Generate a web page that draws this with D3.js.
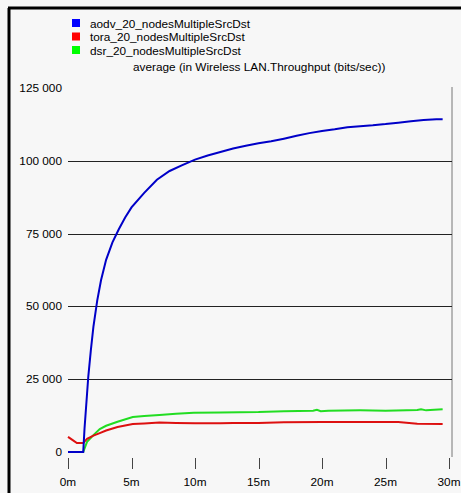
<!DOCTYPE html>
<html>
<head>
<meta charset="utf-8">
<script src="https://d3js.org/d3.v7.min.js"></script>
<style>
  body { margin: 0; background: #f7f7f7; }
  svg { display: block; }
  text { font-family: "Liberation Sans", Arial, sans-serif; font-size: 11.8px; fill: #000; }
</style>
</head>
<body>
<script>
// series: time in minutes, value in bits/sec
var seriesNames = ["aodv_20_nodesMultipleSrcDst", "tora_20_nodesMultipleSrcDst", "dsr_20_nodesMultipleSrcDst"];
var legendColors = ["#0000ff", "#ff0000", "#00ff00"];
var lineColors = ["#0000c8", "#dd1010", "#22dd22"];

var aodvT = [0, 1.2, 1.3, 1.5, 1.6, 1.8, 2.0, 2.3, 2.6, 3.0, 3.5, 4.0, 4.5, 5, 6, 7, 8, 9, 10, 11, 12, 13, 14, 15, 16, 17, 18, 19, 20, 21, 22, 23, 24, 25, 26, 27, 28, 29, 29.5];
var aodvV = [0, 0, 8000, 20000, 26000, 35000, 43000, 52000, 59000, 66000, 72000, 76500, 80500, 84000, 89000, 93500, 96500, 98500, 100400, 101800, 103000, 104200, 105200, 106000, 106700, 107600, 108600, 109500, 110200, 110800, 111500, 111900, 112200, 112600, 113100, 113600, 114000, 114300, 114300];

var toraT = [0, 0.4, 0.7, 1.2, 1.5, 2.0, 2.5, 3.0, 3.9, 5.1, 6, 7.2, 8.5, 10, 12, 13, 15, 17, 20, 23, 26, 27.5, 29.5];
var toraV = [5200, 4000, 3100, 3100, 4500, 5600, 6500, 7400, 8600, 9600, 9800, 10100, 10000, 9900, 9900, 10000, 10000, 10200, 10300, 10300, 10300, 9700, 9600];

var dsrT = [1.2, 1.5, 2.0, 2.5, 3.0, 3.9, 5.1, 6, 7.2, 8.5, 9.9, 12, 15, 17, 19.3, 19.6, 19.9, 20.5, 23, 25, 27.5, 27.8, 28.2, 29.5];
var dsrV = [0, 3500, 5800, 7900, 9000, 10400, 12000, 12400, 12700, 13100, 13500, 13600, 13700, 14000, 14200, 14500, 14000, 14200, 14300, 14200, 14400, 14700, 14300, 14700];

var yTicks = [0, 25000, 50000, 75000, 100000, 125000];
var xTicks = [0, 5, 10, 15, 20, 25, 30];
var yTitle = "average (in Wireless LAN.Throughput (bits/sec))";

var width = 461, height = 493;

var svg = d3.select("body").append("svg")
    .attr("width", width)
    .attr("height", height);

svg.append("rect").attr("width", width).attr("height", height).attr("fill", "#f7f7f7");

// frame (top and left edges only)
svg.append("line").attr("x1", 8).attr("x2", width).attr("y1", 8).attr("y2", 8)
    .attr("stroke", "#000").attr("stroke-width", 3);
svg.append("line").attr("x1", 9).attr("x2", 9).attr("y1", 8).attr("y2", height)
    .attr("stroke", "#000").attr("stroke-width", 3);

var x = d3.scaleLinear().domain([0, 30]).range([68, 449]);
var y = d3.scaleLinear().domain([0, 125000]).range([452, 88]);

// right border of plot
svg.append("line").attr("x1", 452).attr("x2", 452).attr("y1", 87).attr("y2", 457)
    .attr("stroke", "#777").attr("stroke-width", 1);

// grid lines
svg.append("g").selectAll("line")
    .data(yTicks.filter(d => d > 0 && d < 125000))
    .join("line")
    .attr("x1", 68).attr("x2", 452)
    .attr("y1", d => Math.round(y(d)) + 0.5).attr("y2", d => Math.round(y(d)) + 0.5)
    .attr("stroke", "#222");

// y labels
svg.append("g").selectAll("text")
    .data(yTicks)
    .join("text")
    .attr("x", 62)
    .attr("y", d => y(d) + 4)
    .attr("text-anchor", "end")
    .text(d => d3.format(",")(d).replace(/,/g, " "));

// x ticks
var xAxis = svg.append("g");
xAxis.selectAll("line")
    .data(xTicks)
    .join("line")
    .attr("x1", d => Math.round(x(d)) + 0.5).attr("x2", d => Math.round(x(d)) + 0.5)
    .attr("y1", 458).attr("y2", 469)
    .attr("stroke", "#444");
xAxis.selectAll("text")
    .data(xTicks)
    .join("text")
    .attr("x", d => x(d))
    .attr("y", 486)
    .attr("text-anchor", "middle")
    .text(d => d + "m");

// lines
var line = d3.line().x(d => x(d[0])).y(d => y(d[1]));
var series = [d3.zip(aodvT, aodvV), d3.zip(toraT, toraV), d3.zip(dsrT, dsrV)];
// draw dsr, tora, then aodv on top
[2, 1, 0].forEach(function(i) {
    svg.append("path")
        .datum(series[i])
        .attr("d", line)
        .attr("fill", "none")
        .attr("stroke", lineColors[i])
        .attr("stroke-width", 2);
});

// legend
var legend = svg.append("g").selectAll("g")
    .data(seriesNames)
    .join("g")
    .attr("transform", (d, i) => "translate(72," + (19 + i * 13.5) + ")");
legend.append("rect")
    .attr("width", 8).attr("height", 8)
    .attr("fill", (d, i) => legendColors[i]);
legend.append("text")
    .attr("x", 18).attr("y", 8.5)
    .text(d => d);

svg.append("text")
    .attr("x", 133).attr("y", 71)
    .text(yTitle);
</script>
</body>
</html>
